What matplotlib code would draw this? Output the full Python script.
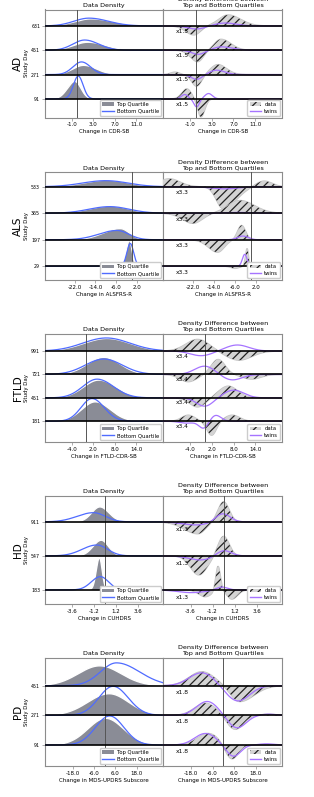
import numpy as np
import matplotlib
matplotlib.use('Agg')
import matplotlib.pyplot as plt
import matplotlib.transforms as mtransforms
from matplotlib.patches import Patch
from matplotlib.lines import Line2D

plt.rcParams['font.family'] = ['DejaVu Sans']
plt.rcParams['hatch.linewidth'] = 0.9
plt.rcParams['hatch.color'] = '#222222'

# ------------------------------------------------------------------ data
# density curves: (centre, spread left, spread right, peak height in ridge units)
# difference curves: list of signed bumps with the same layout

AD_days = [91, 271, 451, 631]
AD_top = [(-0.4, 1.4, 1.1, 0.72), (1.2, 2.0, 2.4, 0.38), (2.0, 2.6, 3.2, 0.33), (2.6, 3.0, 4.0, 0.29)]
AD_bottom = [(0.2, 0.9, 0.9, 0.94), (0.8, 1.6, 1.7, 0.52), (1.4, 2.2, 2.6, 0.42), (2.2, 2.8, 3.6, 0.32)]
AD_data = [
    [(-1.6, 0.9, 0.8, 0.41), (1.0, 0.6, 0.7, -0.74)],
    [(-3.8, 0.8, 0.8, 0.10), (0.2, 0.9, 0.9, -0.48), (4.1, 1.3, 1.6, 0.41)],
    [(0.4, 1.3, 1.0, -0.47), (4.7, 1.2, 1.8, 0.45)],
    [(-0.3, 1.5, 1.2, -0.37), (6.0, 1.7, 2.3, 0.45)],
]
AD_twins = [
    [(-2.0, 0.6, 0.6, 0.18), (0.2, 0.5, 0.5, -0.33), (2.4, 0.7, 0.7, 0.22)],
    [(0.2, 1.0, 1.0, -0.20), (3.9, 1.3, 1.5, 0.18)],
    [(0.5, 1.2, 1.2, -0.17), (4.8, 1.5, 2.0, 0.14)],
    [(0.2, 1.6, 1.6, -0.13), (5.5, 2.0, 2.0, 0.12)],
]
AD_factor = 'x1.5'
AD_xticks = [-1.0, 3.0, 7.0, 11.0]
AD_xlabel = 'Change in CDR-SB'

ALS_days = [29, 197, 365, 533]
ALS_top = [(-0.9, 1.2, 1.0, 0.98), (-4.4, 6.5, 3.5, 0.42), (-8.2, 8.0, 7.0, 0.27), (-9.5, 8.5, 8.0, 0.25)]
ALS_bottom = [(-0.6, 1.3, 1.3, 0.86), (-5.7, 7.0, 4.5, 0.35), (-8.5, 8.0, 7.5, 0.25), (-10.0, 9.0, 8.5, 0.23)]
ALS_data = [
    [(-6.0, 1.5, 1.5, -0.08), (-1.4, 0.6, 0.6, 0.67), (0.6, 0.7, 0.7, -0.35)],
    [(-12.6, 3.5, 2.5, -0.47), (-3.5, 1.5, 1.5, 0.54)],
    [(-22.0, 4.0, 3.5, -0.38), (-4.1, 4.5, 5.5, 0.48)],
    [(-31.0, 4.0, 4.0, 0.30), (-10.6, 2.5, 5.0, -0.82), (5.0, 3.0, 3.0, 0.22)],
]
ALS_twins = [
    [(-2.3, 0.9, 0.9, 0.45), (0.0, 0.5, 0.5, -0.12)],
    [(-3.0, 2.0, 2.0, 0.14)],
    [(-5.0, 5.0, 5.0, 0.03)],
    [(-10.0, 5.0, 5.0, -0.08)],
]
ALS_factor = 'x3.3'
ALS_xticks = [-22.0, -14.0, -6.0, 2.0]
ALS_xlabel = 'Change in ALSFRS-R'

FTLD_days = [181, 451, 721, 991]
FTLD_top = [(2.5, 3.8, 4.2, 0.83), (3.5, 4.3, 4.8, 0.76), (4.9, 4.6, 4.6, 0.73), (5.8, 6.5, 6.5, 0.54)]
FTLD_bottom = [(1.6, 3.1, 3.4, 0.97), (3.0, 4.0, 4.6, 0.80), (4.9, 5.2, 5.2, 0.66), (5.6, 6.6, 6.6, 0.56)]
FTLD_data = [
    [(-4.6, 1.8, 1.8, 0.26), (1.9, 1.3, 1.3, -0.60), (7.6, 2.0, 2.0, 0.26)],
    [(-2.0, 2.2, 2.2, -0.39), (6.5, 2.6, 2.6, 0.50)],
    [(-4.6, 2.3, 2.3, -0.31), (3.7, 1.9, 1.9, 0.64), (13.0, 2.5, 2.5, -0.20)],
    [(-2.0, 3.2, 3.2, 0.50), (9.5, 3.5, 3.5, -0.39)],
]
FTLD_twins = [
    [(-5.0, 2.0, 2.0, -0.08), (-0.3, 1.3, 1.3, -0.31), (3.0, 1.5, 1.5, 0.26)],
    [(0.0, 2.3, 2.3, -0.36), (8.0, 2.8, 2.8, 0.33)],
    [(0.0, 2.8, 2.8, 0.36), (7.5, 2.8, 2.8, -0.24)],
    [(-1.0, 3.0, 3.0, -0.20), (9.0, 3.2, 3.2, 0.26)],
]
FTLD_factor = 'x3.4'
FTLD_xticks = [-4.0, 2.0, 8.0, 14.0]
FTLD_xlabel = 'Change in FTLD-CDR-SB'

HD_days = [183, 547, 911]
HD_top = [(-0.6, 0.35, 0.3, 0.95), (-0.4, 0.9, 0.8, 0.46), (-0.55, 0.9, 1.0, 0.44)]
HD_bottom = [(-0.5, 1.0, 0.9, 0.39), (-0.9, 1.6, 1.2, 0.32), (-1.26, 1.8, 1.3, 0.27)]
HD_data = [
    [(-2.0, 0.7, 0.7, -0.20), (-0.6, 0.25, 0.25, 0.72), (0.9, 0.5, 0.6, -0.27)],
    [(-2.7, 0.9, 0.9, -0.56), (0.0, 0.6, 0.6, 0.58)],
    [(-2.8, 1.5, 0.8, -0.35), (0.0, 0.6, 0.6, 0.59)],
]
HD_twins = [
    [(-3.5, 1.5, 1.5, -0.08), (-0.2, 0.6, 0.6, 0.09)],
    [(-2.5, 1.3, 1.3, -0.12), (0.0, 0.8, 0.8, 0.17)],
    [(-3.0, 1.5, 1.5, -0.09), (-0.1, 0.8, 0.8, 0.25)],
]
HD_factor = 'x1.3'
HD_xticks = [-3.6, -1.2, 1.2, 3.6]
HD_xlabel = 'Change in CUHDRS'

PD_days = [91, 271, 451]
PD_top = [(0.6, 10.0, 10.0, 0.90), (2.5, 12.0, 11.0, 0.73), (-2.8, 12.0, 12.0, 0.67)]
PD_bottom = [(2.8, 8.0, 8.0, 0.98), (4.7, 8.0, 8.5, 0.98), (6.6, 9.0, 13.0, 0.77)]
PD_data = [
    [(-8.5, 6.0, 6.0, 0.39), (4.6, 3.5, 3.5, -0.50)],
    [(-10.0, 6.0, 6.0, 0.41), (6.5, 4.5, 4.5, -0.48), (25.0, 4.0, 4.0, 0.04)],
    [(-12.0, 7.0, 7.0, 0.47), (9.0, 5.0, 8.0, -0.54)],
]
PD_twins = [
    [(-10.0, 6.0, 6.0, 0.39), (5.5, 4.0, 4.0, -0.39), (24.0, 4.0, 4.0, 0.04)],
    [(-9.0, 6.0, 6.0, 0.47), (7.5, 5.0, 5.0, -0.43), (25.0, 4.0, 4.0, 0.04)],
    [(-12.0, 7.0, 7.0, 0.44), (8.0, 6.5, 6.5, -0.52)],
]
PD_factor = 'x1.8'
PD_xticks = [-18.0, -6.0, 6.0, 18.0]
PD_xlabel = 'Change in MDS-UPDRS Subscore'

diseases = [
    ('AD', AD_days, AD_top, AD_bottom, AD_data, AD_twins, AD_factor, AD_xticks, AD_xlabel),
    ('ALS', ALS_days, ALS_top, ALS_bottom, ALS_data, ALS_twins, ALS_factor, ALS_xticks, ALS_xlabel),
    ('FTLD', FTLD_days, FTLD_top, FTLD_bottom, FTLD_data, FTLD_twins, FTLD_factor, FTLD_xticks, FTLD_xlabel),
    ('HD', HD_days, HD_top, HD_bottom, HD_data, HD_twins, HD_factor, HD_xticks, HD_xlabel),
    ('PD', PD_days, PD_top, PD_bottom, PD_data, PD_twins, PD_factor, PD_xticks, PD_xlabel),
]

# ------------------------------------------------------------------ layout
W, H = 314, 797
ROW_TOP = [9.5, 172.3, 334.0, 496.0, 657.7]
AX_H = 108.0
XLIMS = [(-6.0, 16.0), (-33.4, 12.0), (-11.6, 21.5), (-6.6, 6.4), (-33.6, 32.8)]
YLIMS = [(-0.765, 3.675), (-0.53, 3.545), (-0.887, 3.729), (-0.414, 2.76), (-0.698, 2.944)]

GRAY = '#8a8c96'
BLUE = '#4f6bff'
PURPLE = '#a674ff'
SPINE = '#8c8c8c'
HATCH_FACE = '#d4d4d4'
HATCH_EDGE = '#222222'


def curve(x, c, sl, sr, h):
    s = np.where(x < c, sl, sr)
    return h * np.exp(-0.5 * ((x - c) / s) ** 2)


def profile(x, bumps):
    y = np.zeros_like(x)
    for b in bumps:
        y = y + curve(x, *b)
    return y


fig = plt.figure(figsize=(W / 100, H / 100), dpi=100)

for k, (name, days, top, bottom, data, twins, factor, xticks, xlabel) in enumerate(diseases):
    y0 = 1 - (ROW_TOP[k] + AX_H) / H
    axl = fig.add_axes([45 / W, y0, 118 / W, AX_H / H])
    axr = fig.add_axes([163 / W, y0, 119.3 / W, AX_H / H])
    x = np.linspace(XLIMS[k][0], XLIMS[k][1], 800)
    n = len(days)

    for i in range(n):
        z = 10 + (n - i) * 3
        t = curve(x, *top[i])
        b = curve(x, *bottom[i])
        axl.fill_between(x, i, i + t, facecolor=GRAY, edgecolor='none', zorder=z)
        axl.plot(x, i + t, color='white', lw=1.0, zorder=z + 0.5)
        axl.plot(x, i + b, color=BLUE, lw=0.9, zorder=z + 1)
        axl.axhline(i, color='black', lw=1.2, zorder=60)

        d = profile(x, data[i])
        w = profile(x, twins[i])
        axr.plot(x, i + d, color='#c4c4c4', lw=1.0, zorder=z - 0.5)
        axr.fill_between(x, i, i + d, facecolor=HATCH_FACE, edgecolor=HATCH_EDGE,
                         hatch='////', lw=0, zorder=z)
        axr.plot(x, i + w, color=PURPLE, lw=0.9, zorder=z + 1)
        axr.axhline(i, color='black', lw=1.2, zorder=60)
        tr = mtransforms.blended_transform_factory(axr.transAxes, axr.transData)
        axr.text(0.107, i - 0.22, factor, transform=tr, fontsize=4.3,
                 ha='left', va='center', zorder=70)

    for ax in (axl, axr):
        ax.set_xlim(*XLIMS[k])
        ax.set_ylim(*YLIMS[k])
        ax.axvline(0, color='#555555', lw=0.7, zorder=50)
        ax.set_xticks(xticks)
        ax.set_xticklabels([f'{v:.1f}' for v in xticks])
        ax.tick_params(axis='x', labelsize=4, length=2, width=0.5, pad=1.5, color=SPINE)
        ax.set_xlabel(xlabel, fontsize=4, labelpad=1.5)
        for sp in ax.spines.values():
            sp.set_color(SPINE)
            sp.set_linewidth(0.8)

    axl.set_yticks(range(n))
    axl.set_yticklabels([str(d) for d in days])
    axl.tick_params(axis='y', labelsize=3.4, length=2, width=0.5, pad=1.5, color=SPINE)
    axl.set_ylabel('Study Day', fontsize=3.9, labelpad=1.5)
    axr.set_yticks([])

    axl.set_title('Data Density', fontsize=4.6, pad=2)
    axr.set_title('Density Difference between\nTop and Bottom Quartiles', fontsize=4.6, pad=2)

    fig.text(17.5 / W, 1 - (ROW_TOP[k] + AX_H / 2) / H, name, rotation=90,
             fontsize=7.5, ha='center', va='center')

    hl = [Patch(facecolor=GRAY, edgecolor='none', label='Top Quartile'),
          Line2D([], [], color=BLUE, lw=1.0, label='Bottom Quartile')]
    leg = axl.legend(handles=hl, loc='lower right', fontsize=3.8, handlelength=2.2,
                     borderpad=0.4, labelspacing=0.35, handletextpad=0.6,
                     borderaxespad=0.35, framealpha=1, edgecolor='#cccccc')
    leg.set_zorder(200)
    hr = [Patch(facecolor=HATCH_FACE, edgecolor=HATCH_EDGE, hatch='////', lw=0, label='data'),
          Line2D([], [], color=PURPLE, lw=1.0, label='twins')]
    leg = axr.legend(handles=hr, loc='lower right', fontsize=3.8, handlelength=2.2,
                     borderpad=0.4, labelspacing=0.35, handletextpad=0.6,
                     borderaxespad=0.35, framealpha=1, edgecolor='#cccccc')
    leg.set_zorder(200)

fig.savefig('out.png', dpi=100)
